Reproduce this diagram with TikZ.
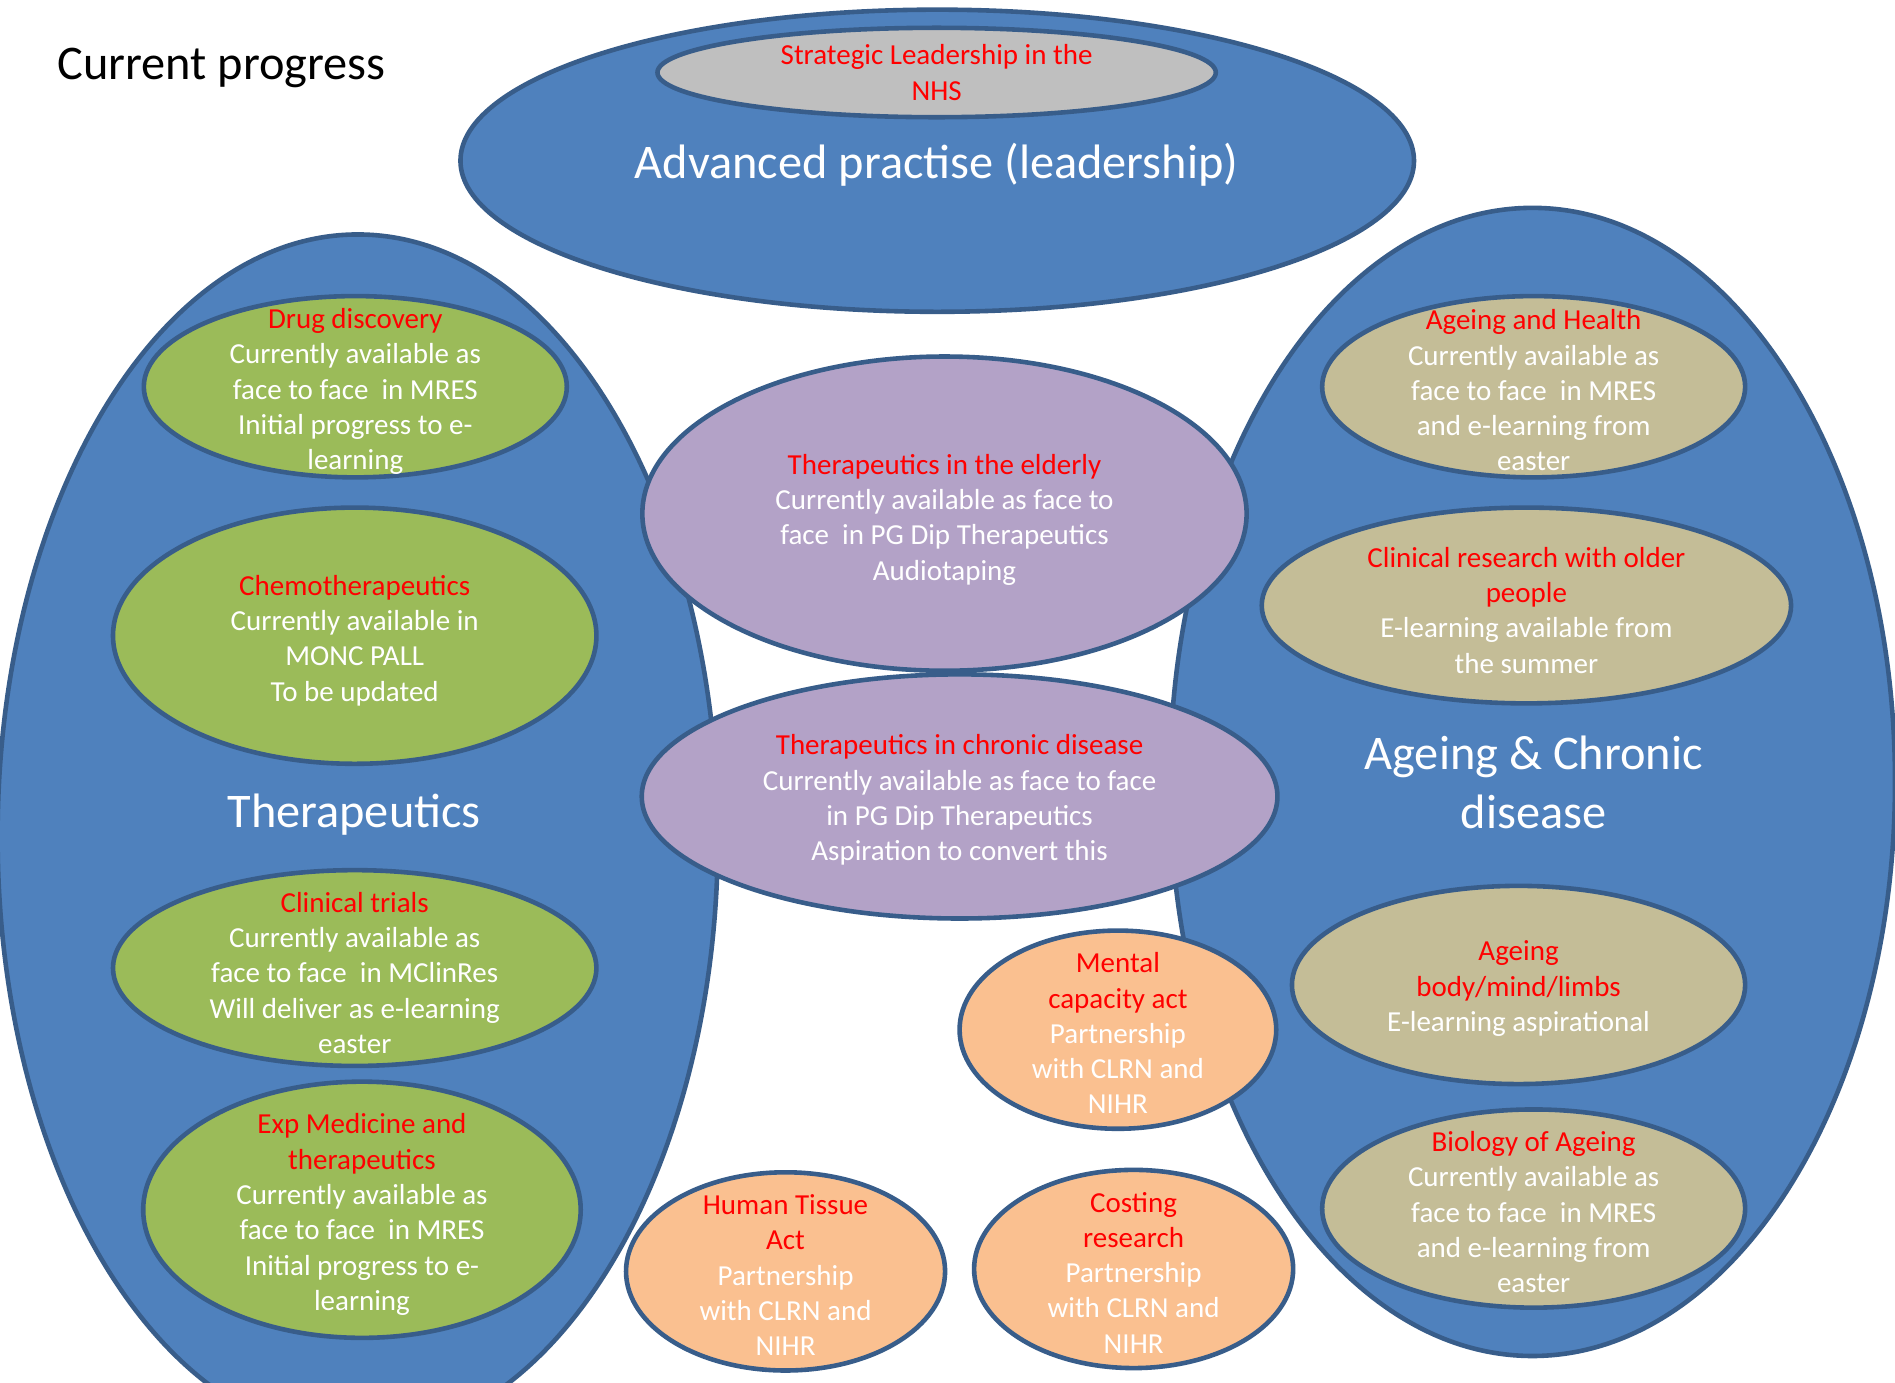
\documentclass[tikz,border=0pt]{standalone}
\usepackage{fontspec}
\setmainfont{Carlito}
\usetikzlibrary{shapes.geometric}
\definecolor{bluefill}{HTML}{4F81BD}
\definecolor{edgeblue}{HTML}{385D8A}
\definecolor{greenfill}{HTML}{9BBB59}
\definecolor{purplefill}{HTML}{B3A2C7}
\definecolor{tanfill}{HTML}{C4BD97}
\definecolor{orangefill}{HTML}{FAC090}
\definecolor{greyfill}{HTML}{BFBFBF}
\definecolor{redtext}{HTML}{FF0000}
\newcommand\redt[1]{\textcolor{redtext}{#1}}
\begin{document}
\begin{tikzpicture}[x=0.5pt,y=-0.5pt,
  bub/.style={ellipse, draw=edgeblue, line width=1.9pt, inner sep=0pt},
  txt/.style={align=center, text=white, font=\fontsize{12}{14.6}\selectfont, inner sep=0pt, yshift=-1pt},
  bigtxt/.style={align=center, text=white, font=\fontsize{20}{24.4}\selectfont, inner sep=0pt, yshift=-1pt}]
\useasboundingbox (0,0) rectangle (1568,1144);
\clip (0,0) rectangle (1568,1144);
\fill[white] (0,0) rectangle (1568,1144);

% title
\node[anchor=base west, inner sep=0pt, font=\fontsize{20}{24}\selectfont] (title) at (47,66) {Current progress};

% big containers
\node[bub, fill=bluefill, minimum width=394.5pt, minimum height=125pt] (adv) at (775.5,133) {};
\node[bub, fill=bluefill, minimum width=300pt, minimum height=475pt] (ageing) at (1268,647) {};
\node[bub, fill=bluefill, minimum width=298pt, minimum height=498pt] (thera) at (296,692) {};

\node[bub, fill=greyfill, minimum width=231pt, minimum height=37pt] (strat) at (775,60) {};
\node[txt] (strattxt) at (775,58) {\redt{Strategic Leadership in the}\\\redt{NHS}};

\node[bigtxt] (advtxt) at (775,134) {Advanced practise (leadership)};
\node[bigtxt] (theratxt) at (293,672) {Therapeutics};
\node[bigtxt] (ageingtxt) at (1269,645) {Ageing \& Chronic\\disease};

% purple
\node[bub, fill=purplefill, minimum width=250pt, minimum height=130pt] (elderly) at (781.5,425) {};
\node[txt] (elderlytxt) at (781.5,428) {\redt{Therapeutics in the elderly}\\Currently available as face to\\face~ in PG Dip Therapeutics\\Audiotaping};
\node[bub, fill=purplefill, minimum width=263pt, minimum height=101pt] (chronic) at (794,659) {};
\node[txt] (chronictxt) at (794,660) {\redt{Therapeutics in chronic disease}\\Currently available as face to face\\in PG Dip Therapeutics\\Aspiration to convert this};

% green
\node[bub, fill=greenfill, minimum width=175pt, minimum height=75pt] (drug) at (294,320) {};
\node[txt] (drugtxt) at (294,322) {\redt{Drug discovery}\\Currently available as\\face to face~ in MRES\\Initial progress to e-\\learning};
\node[bub, fill=greenfill, minimum width=200pt, minimum height=106pt] (chemo) at (293.5,526) {};
\node[txt] (chemotxt) at (293.5,528) {\redt{Chemotherapeutics}\\Currently available in\\MONC PALL\\To be updated};
\node[bub, fill=greenfill, minimum width=200pt, minimum height=81pt] (trials) at (293.5,801) {};
\node[txt] (trialstxt) at (293.5,803) {\redt{Clinical trials}\\Currently available as\\face to face~ in MClinRes\\Will deliver as e-learning\\easter};
\node[bub, fill=greenfill, minimum width=181pt, minimum height=106pt] (expmed) at (299.5,1001) {};
\node[txt] (expmedtxt) at (299.5,1003) {\redt{Exp Medicine and}\\\redt{therapeutics}\\Currently available as\\face to face~ in MRES\\Initial progress to e-\\learning};

% tan
\node[bub, fill=tanfill, minimum width=175pt, minimum height=75pt] (health) at (1269,320) {};
\node[txt] (healthtxt) at (1269,321) {\redt{Ageing and Health}\\Currently available as\\face to face~ in MRES\\and e-learning from\\easter};
\node[bub, fill=tanfill, minimum width=219pt, minimum height=81pt] (clinres) at (1263,501) {};
\node[txt] (clinrestxt) at (1263,503) {\redt{Clinical research with older}\\\redt{people}\\E-learning available from\\the summer};
\node[bub, fill=tanfill, minimum width=187.5pt, minimum height=82pt] (body) at (1256.5,815) {};
\node[txt] (bodytxt) at (1256.5,816) {\redt{Ageing}\\\redt{body/mind/limbs}\\E-learning aspirational};
\node[bub, fill=tanfill, minimum width=175pt, minimum height=82pt] (biology) at (1269,1000) {};
\node[txt] (biologytxt) at (1269,1001) {\redt{Biology of Ageing}\\Currently available as\\face to face~ in MRES\\and e-learning from\\easter};

% orange
\node[bub, fill=orangefill, minimum width=131pt, minimum height=82pt] (mental) at (925,852) {};
\node[txt] (mentaltxt) at (925,853) {\redt{Mental}\\\redt{capacity act}\\Partnership\\with CLRN and\\NIHR};
\node[bub, fill=orangefill, minimum width=132pt, minimum height=82pt] (tissue) at (650,1052) {};
\node[txt] (tissuetxt) at (650,1053) {\redt{Human Tissue}\\\redt{Act}\\Partnership\\with CLRN and\\NIHR};
\node[bub, fill=orangefill, minimum width=132pt, minimum height=82pt] (costing) at (938,1050) {};
\node[txt] (costingtxt) at (938,1051) {\redt{Costing}\\\redt{research}\\Partnership\\with CLRN and\\NIHR};
\end{tikzpicture}
\end{document}
